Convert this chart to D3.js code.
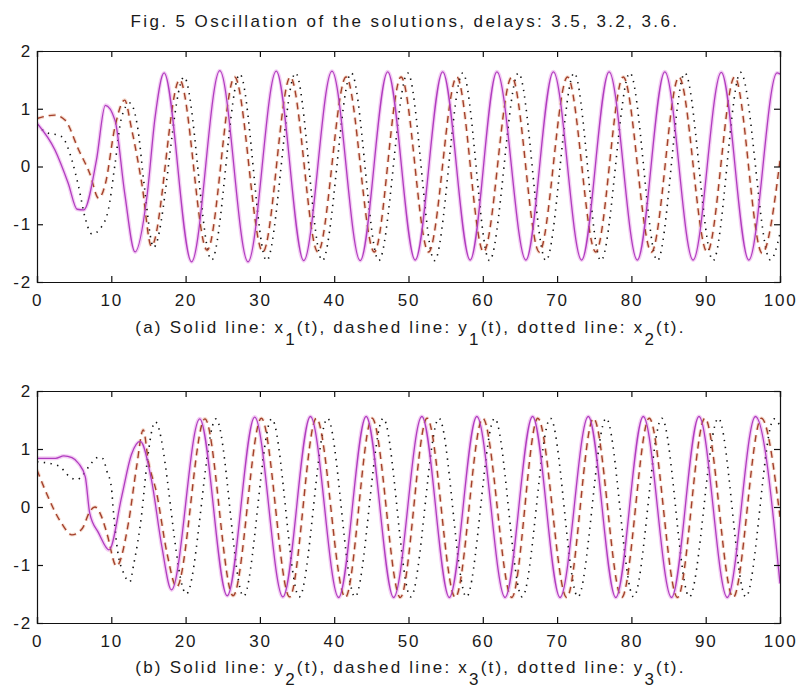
<!DOCTYPE html>
<html><head><meta charset="utf-8">
<script src="https://cdn.jsdelivr.net/npm/d3@7"></script>
<style>
body{margin:0;background:#fff}
svg{display:block}
text{font-family:"Liberation Sans",Arial,sans-serif;fill:#1a1a1a}
</style>
</head><body>
<svg id="chart" width="798" height="688"></svg>
<script>
// ---------- data ----------
const titleText = "Fig. 5 Oscillation of the solutions, delays: 3.5, 3.2, 3.6.";
const xTicks = [0, 10, 20, 30, 40, 50, 60, 70, 80, 90, 100];
const yTicks = [-2, -1, 0, 1, 2];

// panel (a)
const x1 = [[0,0.75],[2.4,0.29],[4.2,-0.29],[5.4,-0.74],[6.3,-0.75],[8.0,0.11],[9.2,1.06],[10.5,0.8],[11.8,-0.46],[13.2,-1.48],[14.8,-0.52],[15.9,0.86],[17.1,1.62],[20.8,-1.65],[24.6,1.66],[28.4,-1.65],[32.2,1.65],[35.9,-1.63],[39.7,1.65],[43.5,-1.63],[47.2,1.64],[50.9,-1.62],[54.6,1.64],[58.3,-1.62],[61.9,1.64],[65.8,-1.62],[69.5,1.64],[73.3,-1.62],[77.0,1.64],[80.8,-1.62],[84.5,1.64],[88.3,-1.62],[92.1,1.63],[95.8,-1.62],[99.6,1.62],[100,1.6]];
const y1 = [[0,0.83],[2.4,0.89],[3.8,0.8],[5.6,0.29],[7.1,-0.12],[8.3,-0.55],[9.2,-0.3],[10.5,0.69],[11.8,1.15],[12.7,0.67],[14.1,-0.29],[15.4,-1.38],[19.2,1.5],[22.9,-1.45],[26.6,1.55],[30.4,-1.48],[34.1,1.55],[37.8,-1.48],[41.6,1.55],[45.4,-1.48],[49.0,1.55],[52.7,-1.48],[56.5,1.55],[60.1,-1.48],[63.9,1.55],[67.6,-1.48],[71.4,1.55],[75.2,-1.48],[78.9,1.55],[82.7,-1.48],[86.4,1.55],[90.2,-1.48],[93.9,1.55],[97.6,-1.5],[100,0.1]];
const x2 = [[0,0.72],[1.1,0.6],[3.3,0.52],[4.7,0.11],[5.6,-0.35],[6.5,-0.9],[7.4,-1.17],[8.7,-1.04],[9.6,-0.75],[10.5,0.04],[11.4,0.86],[12.5,1.1],[13.6,0.63],[14.4,-0.29],[15.7,-1.4],[19.8,1.55],[23.5,-1.62],[27.3,1.6],[30.9,-1.63],[34.8,1.62],[38.4,-1.63],[42.3,1.62],[46.0,-1.63],[49.9,1.62],[53.5,-1.63],[57.3,1.62],[60.9,-1.63],[64.8,1.62],[68.5,-1.63],[72.3,1.62],[75.9,-1.63],[79.8,1.62],[83.5,-1.63],[87.2,1.62],[91.0,-1.63],[94.7,1.63],[98.7,-1.62],[100,-1.16]];

// panel (b)
const y2 = [[0,0.84],[2.5,0.84],[3.6,0.88],[4.7,0.85],[5.6,0.75],[6.5,0.52],[7.1,-0.11],[8.3,-0.45],[9.7,-0.74],[11.4,0.18],[12.7,0.9],[13.9,1.13],[15.4,0.47],[16.8,-0.68],[18.1,-1.43],[21.9,1.52],[25.6,-1.53],[29.3,1.55],[33.1,-1.55],[36.8,1.56],[40.6,-1.56],[44.3,1.56],[48.0,-1.56],[51.8,1.56],[55.5,-1.56],[59.2,1.56],[63.0,-1.56],[66.7,1.56],[70.4,-1.56],[74.2,1.56],[77.9,-1.56],[81.6,1.56],[85.4,-1.56],[89.1,1.56],[92.9,-1.56],[96.7,1.56],[100,-1.32]];
const x3 = [[0,0.64],[1.1,0.29],[3.3,-0.28],[4.7,-0.48],[6.1,-0.37],[7.1,-0.08],[7.8,0.0],[8.7,-0.17],[9.4,-0.45],[10.7,-1.02],[12.3,-0.28],[13.4,0.69],[14.3,1.33],[15.0,0.78],[16.1,0.24],[17.5,-0.8],[18.8,-1.38],[22.6,1.52],[26.4,-1.53],[30.2,1.53],[34.0,-1.55],[37.6,1.53],[41.5,-1.56],[45.1,1.53],[48.9,-1.56],[52.5,1.53],[56.3,-1.56],[60.0,1.53],[63.9,-1.56],[67.4,1.53],[71.3,-1.56],[74.9,1.53],[78.7,-1.56],[82.4,1.53],[86.2,-1.56],[89.9,1.53],[93.7,-1.56],[97.5,1.53],[100,-0.17]];
const y3 = [[0,0.78],[2.9,0.71],[4.4,0.52],[5.3,0.47],[6.2,0.55],[7.1,0.72],[8.3,0.86],[8.9,0.83],[9.4,0.62],[10.0,0.35],[10.3,-0.1],[10.9,-0.8],[11.6,-1.12],[12.5,-1.29],[13.0,-1.0],[14.1,-0.11],[14.8,0.75],[15.9,1.47],[20.1,-1.5],[24.1,1.52],[27.8,-1.54],[31.6,1.52],[35.3,-1.55],[39.1,1.53],[42.8,-1.55],[46.6,1.53],[50.3,-1.55],[54.1,1.53],[57.8,-1.55],[61.6,1.53],[65.3,-1.55],[69.1,1.53],[72.8,-1.55],[76.6,1.53],[80.3,-1.55],[84.1,1.53],[87.8,-1.55],[91.7,1.53],[95.4,-1.55],[99.2,1.52],[100,1.4]];

const captionA = [["(a) Solid line: x",0],["1",1],["(t), dashed line: y",0],["1",1],["(t), dotted line: x",0],["2",1],["(t).",0]];
const captionB = [["(b) Solid line: y",0],["2",1],["(t), dashed line: x",0],["3",1],["(t), dotted line: y",0],["3",1],["(t).",0]];

// ---------- drawing ----------
const svg = d3.select("#chart");
const L = 37, R = 780;
const FONT = "'Liberation Sans',Arial,sans-serif";

svg.append("text").attr("x", 405).attr("y", 27).attr("text-anchor","middle")
  .attr("font-size", 17).attr("letter-spacing", 2.4).text(titleText);

const panels = [
  {top: 51, bottom: 282, solid: x1, dashed: y1, dotted: x2, caption: captionA, capY: 333},
  {top: 391, bottom: 623, solid: y2, dashed: x3, dotted: y3, caption: captionB, capY: 673}
];

panels.forEach((p, i) => {
  const x = d3.scaleLinear().domain([0,100]).range([L, R]);
  const y = d3.scaleLinear().domain([-2,2]).range([p.bottom, p.top]);
  const g = svg.append("g");
  const clipId = "clip" + i;
  svg.append("defs").append("clipPath").attr("id", clipId)
    .append("rect").attr("x", L).attr("y", p.top).attr("width", R-L).attr("height", p.bottom-p.top);

  const line = d3.line().x(d => x(d[0])).y(d => y(d[1])).curve(d3.curveMonotoneX);
  const lines = g.append("g").attr("clip-path", `url(#${clipId})`);

  // soft halo (as in the reference image)
  lines.append("path").attr("d", line(p.solid)).attr("fill","none")
    .attr("stroke","#f4cff4").attr("stroke-width",4);
  lines.append("path").attr("d", line(p.dashed)).attr("fill","none")
    .attr("stroke","#f6ddd0").attr("stroke-width",3.5).attr("stroke-dasharray","7,5");

  lines.append("path").attr("d", line(p.dotted)).attr("fill","none")
    .attr("stroke","#111").attr("stroke-width",1.6).attr("stroke-dasharray","1.4,5.4");
  lines.append("path").attr("d", line(p.dashed)).attr("fill","none")
    .attr("stroke","#a3402c").attr("stroke-width",1.4).attr("stroke-dasharray","7,5");
  lines.append("path").attr("d", line(p.solid)).attr("fill","none")
    .attr("stroke","#b03cbf").attr("stroke-width",1.3);

  // axes with inward ticks on all four sides
  const tickLen = 6;
  const fmt = d => String(d);
  const ax = g.append("g");
  ax.append("g").attr("transform",`translate(0,${p.bottom})`)
    .call(d3.axisBottom(x).tickValues(xTicks).tickSize(-tickLen).tickPadding(12).tickFormat(fmt));
  ax.append("g").attr("transform",`translate(0,${p.top})`)
    .call(d3.axisTop(x).tickValues(xTicks).tickSize(-tickLen).tickFormat(""));
  ax.append("g").attr("transform",`translate(${L},0)`)
    .call(d3.axisLeft(y).tickValues(yTicks).tickSize(-tickLen).tickPadding(5).tickFormat(fmt));
  ax.append("g").attr("transform",`translate(${R},0)`)
    .call(d3.axisRight(y).tickValues(yTicks).tickSize(-tickLen).tickFormat(""));
  ax.selectAll(".domain").attr("stroke","#111").attr("stroke-width",1.2);
  ax.selectAll(".tick line").attr("stroke","#111").attr("stroke-width",1.2);
  ax.selectAll(".tick text").attr("font-size",17).attr("font-family",FONT)
    .attr("fill","#1a1a1a").attr("letter-spacing",1.8);

  // caption with subscripts
  const cap = svg.append("text").attr("x", (L+R)/2 + 2).attr("y", p.capY)
    .attr("text-anchor","middle").attr("font-size",17).attr("letter-spacing",2.2);
  let shifted = false;
  p.caption.forEach(([t, sub]) => {
    const ts = cap.append("tspan").text(t);
    if (sub && !shifted) { ts.attr("dy", 12); shifted = true; }
    else if (!sub && shifted) { ts.attr("dy", -12); shifted = false; }
  });
});
</script>
</body></html>
